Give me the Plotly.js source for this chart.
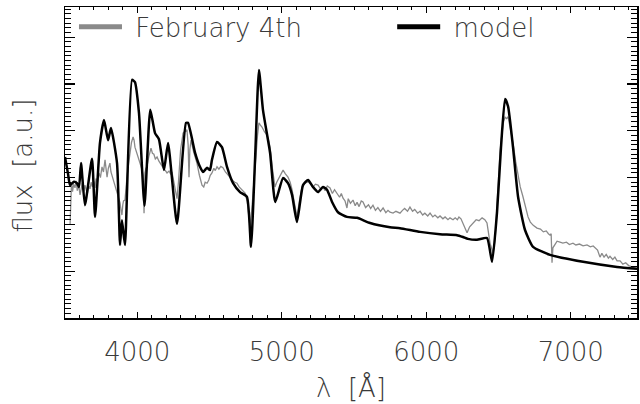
<!DOCTYPE html>
<html>
<head>
<meta charset="utf-8">
<script src="https://cdn.plot.ly/plotly-3.0.1.min.js"></script>
<style>html,body{margin:0;padding:0;background:#fff;}#chart{width:640px;height:404px;}</style>
</head>
<body>
<div id="chart"></div>
<script>
// Model spectrum (wavelength in Angstrom, flux in arbitrary units)
const modelWave = [3500,3521,3535,3562,3583,3597,3611,3638,3687,3708,3742,3770,3798,3818,3860,3881,3894,3915,3964,3984,4012,4050,4090,4123,4150,4185,4213,4275,4337,4351,4400,4434,4455,4483,4503,4517,4552,4586,4621,4663,4711,4759,4787,4815,4842,4870,4919,4955,5009,5043,5071,5105,5147,5182,5216,5251,5285,5313,5348,5389,5451,5521,5611,5749,5818,5957,6095,6213,6254,6288,6351,6420,6455,6489,6517,6545,6566,6600,6635,6683,6739,6856,7085,7320,7458];
const modelFlux = [3.44,3.08,2.84,2.91,2.88,2.80,3.31,2.41,3.40,2.16,3.74,4.23,3.80,4.06,3.31,1.56,2.09,1.56,5.09,5.04,4.38,2.40,4.45,3.95,3.82,3.16,3.74,2.01,4.17,4.17,3.53,3.23,3.12,3.21,3.16,3.38,3.76,3.65,3.23,2.88,2.69,2.59,1.52,3.38,5.30,4.44,3.53,2.48,2.99,2.88,2.63,2.05,2.84,2.95,2.80,2.69,2.80,2.74,2.48,2.26,2.16,2.14,2.03,1.94,1.92,1.84,1.79,1.77,1.73,1.69,1.67,1.71,1.20,2.24,3.65,4.68,4.52,3.65,2.59,1.88,1.52,1.35,1.20,1.09,1.05];

// Observed spectrum, February 4th
const obsWave = [3535,3545,3552,3560,3569,3577,3585,3595,3604,3612,3620,3630,3638,3647,3655,3664,3673,3681,3690,3700,3708,3715,3725,3735,3745,3756,3766,3777,3784,3791,3800,3811,3818,3825,3832,3839,3850,3860,3870,3881,3888,3894,3900,3905,3915,3922,3929,3940,3950,3960,3971,3978,3984,3992,4000,4006,4012,4022,4033,4040,4047,4053,4060,4067,4080,4095,4105,4115,4125,4137,4150,4160,4171,4185,4195,4206,4220,4230,4240,4255,4265,4275,4285,4300,4317,4330,4344,4352,4358,4364,4372,4390,4413,4430,4448,4460,4470,4483,4495,4505,4517,4530,4540,4552,4565,4578,4593,4610,4625,4642,4660,4675,4690,4705,4720,4735,4746,4760,4770,4780,4792,4805,4822,4832,4842,4852,4863,4880,4898,4908,4919,4935,4953,4965,4981,4995,5009,5025,5043,5058,5071,5088,5105,5122,5140,5160,5182,5200,5216,5233,5251,5268,5285,5300,5315,5334,5350,5365,5382,5400,5412,5424,5438,5451,5460,5475,5493,5508,5521,5535,5550,5562,5580,5600,5615,5631,5648,5665,5683,5701,5720,5735,5749,5770,5790,5818,5835,5850,5870,5887,5905,5920,5940,5957,5975,5990,6010,6026,6045,6060,6080,6095,6115,6130,6150,6164,6185,6200,6215,6226,6240,6254,6268,6282,6300,6323,6345,6365,6386,6405,6420,6441,6462,6476,6486,6496,6510,6524,6535,6545,6556,6566,6580,6600,6618,6635,6650,6669,6685,6704,6720,6740,6766,6790,6810,6830,6845,6856,6864,6870,6876,6891,6905,6925,6945,6970,6990,7015,7035,7060,7085,7112,7135,7155,7168,7185,7202,7215,7230,7245,7260,7271,7290,7305,7320,7341,7360,7380,7400,7420,7440,7458];
const obsFlux = [1.99,2.90,2.70,2.86,2.78,2.93,2.72,2.84,2.63,2.80,2.88,2.70,2.84,2.74,2.66,2.82,2.76,2.90,2.80,2.92,2.78,2.98,2.90,3.10,3.00,3.23,3.12,3.38,3.15,3.01,3.20,3.31,3.12,3.05,2.95,2.88,2.80,2.69,2.62,2.46,2.30,2.20,2.42,2.50,2.52,2.80,3.01,3.30,3.53,3.75,3.87,3.80,3.65,3.58,3.50,3.45,3.38,3.28,3.16,3.05,2.24,3.10,3.20,3.23,3.45,3.63,3.52,3.50,3.40,3.44,3.35,3.30,3.23,3.18,3.15,3.10,3.14,3.08,3.12,2.90,2.70,2.55,2.90,3.60,3.95,3.98,4.02,3.70,3.01,3.60,3.80,3.55,3.31,3.05,2.84,2.80,2.90,2.88,2.95,3.05,3.10,3.20,3.15,3.23,3.18,3.24,3.21,3.12,3.06,3.01,2.94,2.90,2.88,2.80,2.76,2.70,2.67,2.50,2.20,1.95,2.30,2.90,3.48,3.90,4.17,4.12,4.08,3.98,3.91,3.80,3.65,3.20,2.80,2.90,2.99,3.10,3.16,3.08,3.01,2.90,2.74,2.45,2.16,2.50,2.80,2.88,2.91,2.86,2.80,2.86,2.84,2.76,2.80,2.72,2.82,2.78,2.66,2.74,2.67,2.58,2.66,2.56,2.50,2.35,2.55,2.45,2.52,2.40,2.47,2.38,2.50,2.48,2.36,2.42,2.34,2.41,2.30,2.36,2.28,2.35,2.25,2.30,2.26,2.24,2.28,2.24,2.30,2.34,2.28,2.37,2.28,2.32,2.24,2.28,2.20,2.24,2.18,2.24,2.16,2.20,2.14,2.18,2.12,2.16,2.10,2.14,2.10,2.14,2.10,2.16,2.12,2.03,1.92,1.82,1.95,2.03,2.10,2.08,2.14,2.10,2.03,1.60,1.39,1.67,2.30,2.95,3.55,3.95,4.20,4.29,4.26,4.30,4.10,3.74,3.35,3.01,2.80,2.59,2.38,2.16,2.05,1.98,1.92,1.90,1.84,1.86,1.80,1.77,1.80,1.18,1.50,1.56,1.64,1.62,1.60,1.62,1.57,1.60,1.56,1.58,1.54,1.56,1.52,1.54,1.50,1.45,1.30,1.38,1.30,1.36,1.28,1.32,1.25,1.30,1.22,1.22,1.15,1.18,1.12,1.10,1.08,1.05];

const seriesNames = ['February 4th', 'model'];
const xTitle = 'λ  [Å]';
const yTitle = 'flux  [a.u.]';
const FONT = {family: '"DejaVu Sans", sans-serif', size: 26, color: '#3a3a3a', weight: 200};
const GRAY = '#8a8a8a';

const traces = [
  {x: obsWave, y: obsFlux, type: 'scatter', mode: 'lines', line: {color: GRAY, width: 1.3}, showlegend: false, hoverinfo: 'skip'},
  {x: modelWave, y: modelFlux, type: 'scatter', mode: 'lines', line: {color: '#000', width: 2.5, shape: 'spline', smoothing: 0.5}, showlegend: false, hoverinfo: 'skip'},
  {x: [null], y: [null], type: 'scatter', mode: 'lines', name: '\u00a0' + seriesNames[0], line: {color: GRAY, width: 5}, legend: 'legend'},
  {x: [null], y: [null], type: 'scatter', mode: 'lines', name: '\u00a0' + seriesNames[1], line: {color: '#000', width: 5}, legend: 'legend2'}
];

const legendBase = {orientation: 'h', xanchor: 'left', yanchor: 'middle', font: FONT, bgcolor: 'rgba(0,0,0,0)', itemwidth: 43};

const layout = {
  width: 640, height: 404,
  margin: {l: 65, r: 3, t: 7, b: 86},
  paper_bgcolor: '#fff', plot_bgcolor: '#fff',
  font: FONT,
  showlegend: true,
  legend: Object.assign({x: 0.0157, y: 0.936}, legendBase),
  legend2: Object.assign({x: 0.572, y: 0.936}, legendBase),
  xaxis: {
    range: [3500, 7458], showgrid: false, zeroline: false, automargin: false,
    showline: true, linecolor: '#000', linewidth: 1.5, mirror: 'allticks',
    ticks: 'inside', ticklen: 6, tickwidth: 1.2, tickcolor: '#000', dtick: 1000, tick0: 0,
    tickfont: FONT, ticklabelstandoff: 10,
    minor: {dtick: 100, ticks: 'inside', ticklen: 3, tickwidth: 1, tickcolor: '#000', showgrid: false}
  },
  yaxis: {
    range: [0, 6.645], showgrid: false, zeroline: false, automargin: false,
    showline: true, linecolor: '#000', linewidth: 1.5, mirror: 'allticks',
    ticks: 'inside', ticklen: 10, tickwidth: 1.2, tickcolor: '#000', dtick: 1, tick0: 0,
    showticklabels: false,
    minor: {dtick: 0.1, ticks: 'inside', ticklen: 6, tickwidth: 1, tickcolor: '#000', showgrid: false}
  },
  annotations: [
    {text: xTitle, xref: 'paper', yref: 'paper', x: 0.5, y: -0.222, xanchor: 'center', yanchor: 'middle', showarrow: false, font: FONT},
    {text: yTitle, xref: 'paper', yref: 'paper', x: -0.0735, y: 0.49, xanchor: 'center', yanchor: 'middle', textangle: -90, showarrow: false, font: FONT}
  ]
};

Plotly.newPlot('chart', traces, layout, {displayModeBar: false, staticPlot: true});
</script>
</body>
</html>
